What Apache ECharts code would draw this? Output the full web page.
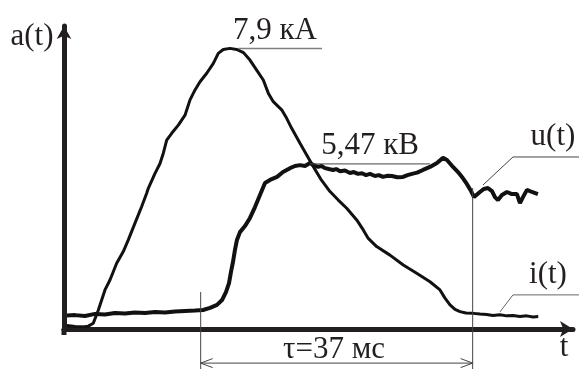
<!DOCTYPE html>
<html><head><meta charset="utf-8">
<script src="https://cdn.jsdelivr.net/npm/echarts@6/dist/echarts.min.js"></script>
<style>html,body{margin:0;padding:0;background:#fff}#c{width:579px;height:369px}</style>
</head><body><div id="c"></div>
<script>
// time, ms
const iT = [0.4,1.5,2.5,3.3,3.98,4.66,5.57,6.25,7.16,8.06,8.74,9.65,10.56,11.24,11.46,12.37,13.05,13.5,13.96,14.64,15.54,16.45,17.13,17.81,18.49,19.4,20.3,20.97,21.65,22.56,23.47,24.4,25.28,26.19,27.09,27.77,28.45,29.59,30.27,30.95,32.08,32.99,33.9,34.9,36.16,37.28,38.43,39.79,40.68,41.36,42.5,44.31,46.12,47.94,49.75,51.11,51.79,52.47,53.15,53.83,54.64,55.63,56.54,57.45,58.31,59.26,60.17,61.03,61.98,62.89,63.75,64.47];
// current i(t), kA
const iVal = [0.10,0.07,0.06,0.08,0.16,0.53,1.10,1.38,1.85,2.18,2.51,2.98,3.45,3.82,3.96,4.38,4.66,4.95,5.32,5.51,5.74,6.02,6.45,6.73,6.96,7.20,7.48,7.76,7.87,7.90,7.87,7.78,7.57,7.29,7.01,6.64,6.40,6.17,5.93,5.65,5.23,4.90,4.57,4.22,3.87,3.63,3.40,3.07,2.79,2.55,2.32,2.08,1.80,1.57,1.33,1.10,0.87,0.68,0.55,0.49,0.45,0.44,0.42,0.41,0.38,0.40,0.37,0.38,0.35,0.37,0.34,0.35];
// time, ms
const uT = [0.41,1.5,2.85,4.21,5.57,6.93,8.29,9.65,11.01,12.37,13.73,15.09,16.45,17.81,18.9,19.85,20.8,21.48,22.03,22.43,22.7,22.97,23.24,23.51,23.92,24.6,25.28,25.96,26.64,27.32,28.0,28.96,29.77,30.72,31.4,32.08,32.76,33.44,34.0,34.53,35.0,35.48,36.0,36.57,37.0,37.52,38.2,38.87,39.4,39.96,40.5,41.05,41.6,42.27,42.8,43.36,44.0,44.58,45.3,46.08,46.7,47.3,48.0,48.8,49.75,50.7,51.52,52.06,52.88,53.56,54.1,54.78,55.33,55.74,56.01,56.54,57.09,57.63,58.18,58.58,58.99,59.53,60.21,60.89,61.57,61.98,62.39,62.93,63.61,64.42];
// voltage u(t), kV
const uVal = [0.45,0.46,0.43,0.50,0.48,0.53,0.51,0.55,0.53,0.56,0.55,0.58,0.60,0.61,0.63,0.70,0.80,0.96,1.23,1.52,1.89,2.22,2.62,2.95,3.21,3.41,3.68,4.04,4.44,4.84,4.94,5.04,5.20,5.33,5.40,5.43,5.40,5.50,5.42,5.37,5.40,5.33,5.30,5.27,5.30,5.23,5.25,5.17,5.20,5.14,5.16,5.10,5.14,5.07,5.10,5.04,5.08,5.07,5.03,5.04,5.10,5.14,5.18,5.27,5.37,5.50,5.67,5.60,5.37,5.20,5.04,4.80,4.57,4.37,4.41,4.54,4.64,4.67,4.57,4.37,4.27,4.44,4.54,4.47,4.47,4.17,4.37,4.61,4.54,4.47];

const iPeak = 7.9, uPeak = 5.47;
const tauStart = 18.58, tauEnd = 55.55;
const labels = {y: 'a(t)', x: 't', i: 'i(t)', u: 'u(t)', iPeak: '7,9 кА', uPeak: '5,47 кВ', tau: 'τ=37 мс'};

const FONT = '31px "Liberation Serif", "DejaVu Serif", serif';
const INK = '#231f20';

const chart = echarts.init(document.getElementById('c'), null, {renderer: 'canvas'});
chart.setOption({
  animation: false,
  backgroundColor: '#fff',
  grid: {left: 64, right: 6, top: 26, bottom: 40},
  xAxis: {type: 'value', min: 0, max: 69.19,
    axisLine: {show: true, lineStyle: {color: INK, width: 5}, symbol: ['none', 'arrow'], symbolSize: [12, 13]},
    axisTick: {show: false}, axisLabel: {show: false}, splitLine: {show: false}},
  yAxis: [
    {type: 'value', min: 0, max: 8.53,
      axisLine: {show: true, lineStyle: {color: INK, width: 5}, symbol: ['none', 'arrow'], symbolSize: [11, 13]},
      axisTick: {show: false}, axisLabel: {show: false}, splitLine: {show: false}},
    {type: 'value', min: 0, max: 10.04, show: false, splitLine: {show: false}}
  ],
  series: [
    {type: 'line', yAxisIndex: 0, showSymbol: false, data: iT.map((t, k) => [t, iVal[k]]),
      lineStyle: {color: '#111', width: 3}},
    {type: 'line', yAxisIndex: 1, showSymbol: false, data: uT.map((t, k) => [t, uVal[k]]),
      lineStyle: {color: '#111', width: 4}}
  ]
});

const Pi = (t, v) => chart.convertToPixel({xAxisIndex: 0, yAxisIndex: 0}, [t, v]);
const Pu = (t, v) => chart.convertToPixel({xAxisIndex: 0, yAxisIndex: 1}, [t, v]);
const W = 579, H = 369;

function txt(s, x, y, align) {
  return {type: 'text', style: {text: s, x: x, y: y, font: FONT, fill: INK, align: align || 'center', verticalAlign: 'middle'}, z: 10};
}
function line(p1, p2, color, w) {
  return {type: 'line', shape: {x1: p1[0], y1: p1[1], x2: p2[0], y2: p2[1]}, style: {stroke: color, lineWidth: w}, z: 5};
}
function poly(pts, color, w) {
  return {type: 'polyline', shape: {points: pts}, style: {stroke: color, lineWidth: w, fill: null}, z: 5};
}

const a1 = Pi(23.65, iPeak), a2 = Pi(35.07, iPeak);
const b1 = Pu(33.44, uPeak), b2 = Pu(49.75, uPeak);
const L = Pi(tauStart, 1.04), R = Pu(tauEnd, 4.67);
const ay = Pi(0, -0.96)[1];
const o = Pi(0, 0);
const uLead = [Pu(56.95, 4.77), Pu(61.03, 5.70), [W, Pu(61.03, 5.70)[1]]];
const iLead = [Pi(59.26, 0.48), Pi(61.03, 0.96), [W, Pi(61.03, 0.96)[1]]];

chart.setOption({graphic: [
  line([o[0], o[1]], [o[0], o[1] + 6], INK, 5),
  line(a1, a2, '#808080', 1.5),
  line(b1, b2, '#444', 1),
  poly(uLead, '#444', 1),
  poly(iLead, '#666', 1),
  line(L, [L[0], H], '#444', 1),
  line(R, [R[0], H], '#444', 1),
  line([L[0], ay], [R[0], ay], '#444', 1),
  poly([[L[0] + 12, ay - 4.5], [L[0], ay], [L[0] + 12, ay + 4.5]], '#444', 1),
  poly([[R[0] - 12, ay - 4.5], [R[0], ay], [R[0] - 12, ay + 4.5]], '#444', 1),
  txt(labels.y, 32, 37),
  txt(labels.x, 564, 348),
  txt(labels.iPeak, 275, 31),
  txt(labels.uPeak, 370, 146),
  txt(labels.u, 553, 137),
  txt(labels.i, 548, 275),
  txt(labels.tau, 334, 350)
]});
</script></body></html>
